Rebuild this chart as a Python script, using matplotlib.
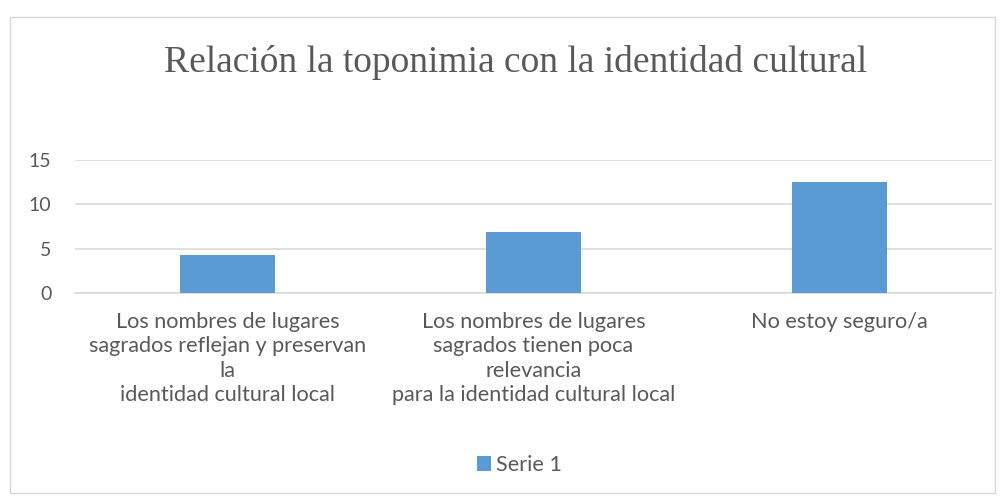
import numpy as np
import matplotlib.pyplot as plt
from matplotlib.patches import Rectangle

# Datos
categorias = ['Los nombres de lugares\nsagrados reflejan y preservan\nla\nidentidad cultural local',
              'Los nombres de lugares\nsagrados tienen poca\nrelevancia\npara la identidad cultural local',
              'No estoy seguro/a']
valores = [4.3, 6.9, 12.5]
yticks = [0, 5, 10, 15]
serie = 'Serie 1'

azul = '#5B9BD5'
gris = '#D9D9D9'
texto = '#595959'
plt.rcParams['font.family'] = ['Lato', 'DejaVu Sans']

fig = plt.figure(figsize=(10.07, 4.96), dpi=100)
ax = fig.add_axes([0.0745, 0.4099, 0.9106, 0.2671])

x = np.arange(len(valores))
ax.bar(x, valores, width=0.31, color=azul, label=serie, zorder=3)

ax.set_xlim(-0.5, len(valores) - 0.5)
ax.set_ylim(0, 15)
ax.set_yticks(yticks)
ax.set_yticklabels([str(v) for v in yticks], fontsize=14, color=texto)
ax.set_xticks(x)
ax.set_xticklabels(categorias, fontsize=15.6, color=texto, linespacing=1.27, va='top')
ax.tick_params(axis='both', length=0)
ax.tick_params(axis='x', pad=14)
ax.tick_params(axis='y', pad=17)
ax.grid(axis='y', color=gris, linewidth=1.2, zorder=0)
for s in ['top', 'right', 'left']:
    ax.spines[s].set_visible(False)
ax.spines['bottom'].set_color(gris)
ax.spines['bottom'].set_linewidth(1.2)

fig.text(0.512, 0.855, 'Relación la toponimia con la identidad cultural',
         ha='center', va='baseline', fontsize=27, color=texto, family='Liberation Serif')

leg = fig.legend(loc='center', bbox_to_anchor=(0.516, 0.0625), frameon=False,
                 fontsize=15.6, handlelength=0.65, handleheight=0.65, handletextpad=0.25)
for t in leg.get_texts():
    t.set_color(texto)

# Borde del grafico
fig.patches.append(Rectangle((0.0099, 0.006), 0.978, 0.96, transform=fig.transFigure,
                             fill=False, edgecolor=gris, linewidth=1))

plt.savefig('out.png', dpi=100)
